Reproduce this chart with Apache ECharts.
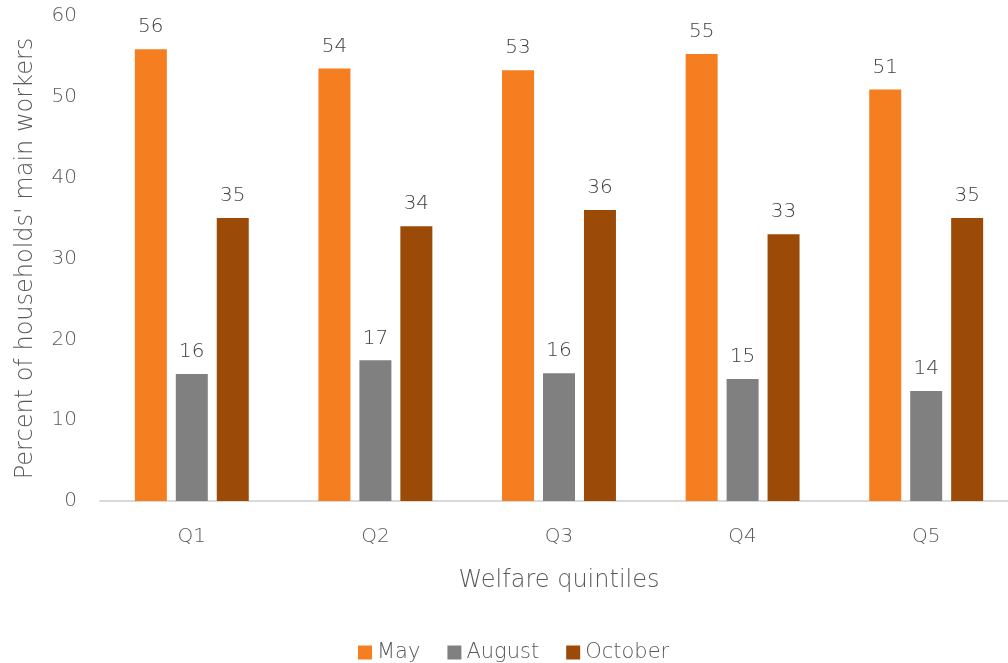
<!DOCTYPE html>
<html><head><meta charset="utf-8">
<script src="https://cdn.jsdelivr.net/npm/echarts@6/dist/echarts.min.js"></script>
<style>html,body{margin:0;padding:0;background:#fff}#c{width:1008px;height:663px}</style>
</head><body><div id="c"></div>
<script>
const categories = ['Q1','Q2','Q3','Q4','Q5'];
const seriesNames = ['May','August','October'];
const may = [55.9, 53.5, 53.3, 55.3, 50.9];
const august = [15.7, 17.4, 15.8, 15.1, 13.6];
const october = [35.0, 34.0, 36.0, 33.0, 35.0];
const yTicks = [0, 10, 20, 30, 40, 50, 60];
const colors = ['#F47E20', '#808080', '#9C4A08'];
const FONT = '"DejaVu Sans", sans-serif';
const chart = echarts.init(document.getElementById('c'));
const mk = (name, data, color) => ({
  name, type: 'bar', data, barWidth: 32, barGap: '28%',
  itemStyle: { color },
  label: { show: true, position: 'top', distance: 12, color: '#404040', fontSize: 20, fontWeight: 200, fontFamily: FONT,
    formatter: p => Math.round(p.value) }
});
chart.setOption({
  animation: false,
  grid: { left: 100, width: 918, top: 16, bottom: 162, containLabel: false, outerBoundsMode: 'none' },
  legend: { bottom: 0, padding: 0, left: 358, itemWidth: 14, itemHeight: 14, itemGap: 27, icon: 'rect',
    textStyle: { color: '#595959', fontSize: 21, fontWeight: 200, fontFamily: FONT }, data: seriesNames },
  xAxis: { type: 'category', data: categories, name: 'Welfare quintiles', nameLocation: 'middle', nameGap: 68,
    nameTextStyle: { color: '#595959', fontSize: 24, fontWeight: 200, fontFamily: FONT },
    axisLine: { lineStyle: { color: '#D9D9D9', width: 2 } }, axisTick: { show: false },
    axisLabel: { color: '#595959', fontSize: 20, fontWeight: 200, fontFamily: FONT, margin: 26 } },
  yAxis: { type: 'value', min: yTicks[0], max: yTicks[yTicks.length-1], interval: 10,
    name: "Percent of households' main workers", nameLocation: 'middle', nameGap: 62,
    nameTextStyle: { color: '#595959', fontSize: 24, fontWeight: 200, fontFamily: FONT },
    axisLine: { show: false }, axisTick: { show: false }, splitLine: { show: false },
    axisLabel: { color: '#595959', fontSize: 20, fontWeight: 200, fontFamily: FONT, margin: 23 } },
  series: [mk(seriesNames[0], may, colors[0]), mk(seriesNames[1], august, colors[1]), mk(seriesNames[2], october, colors[2])]
});
</script></body></html>
